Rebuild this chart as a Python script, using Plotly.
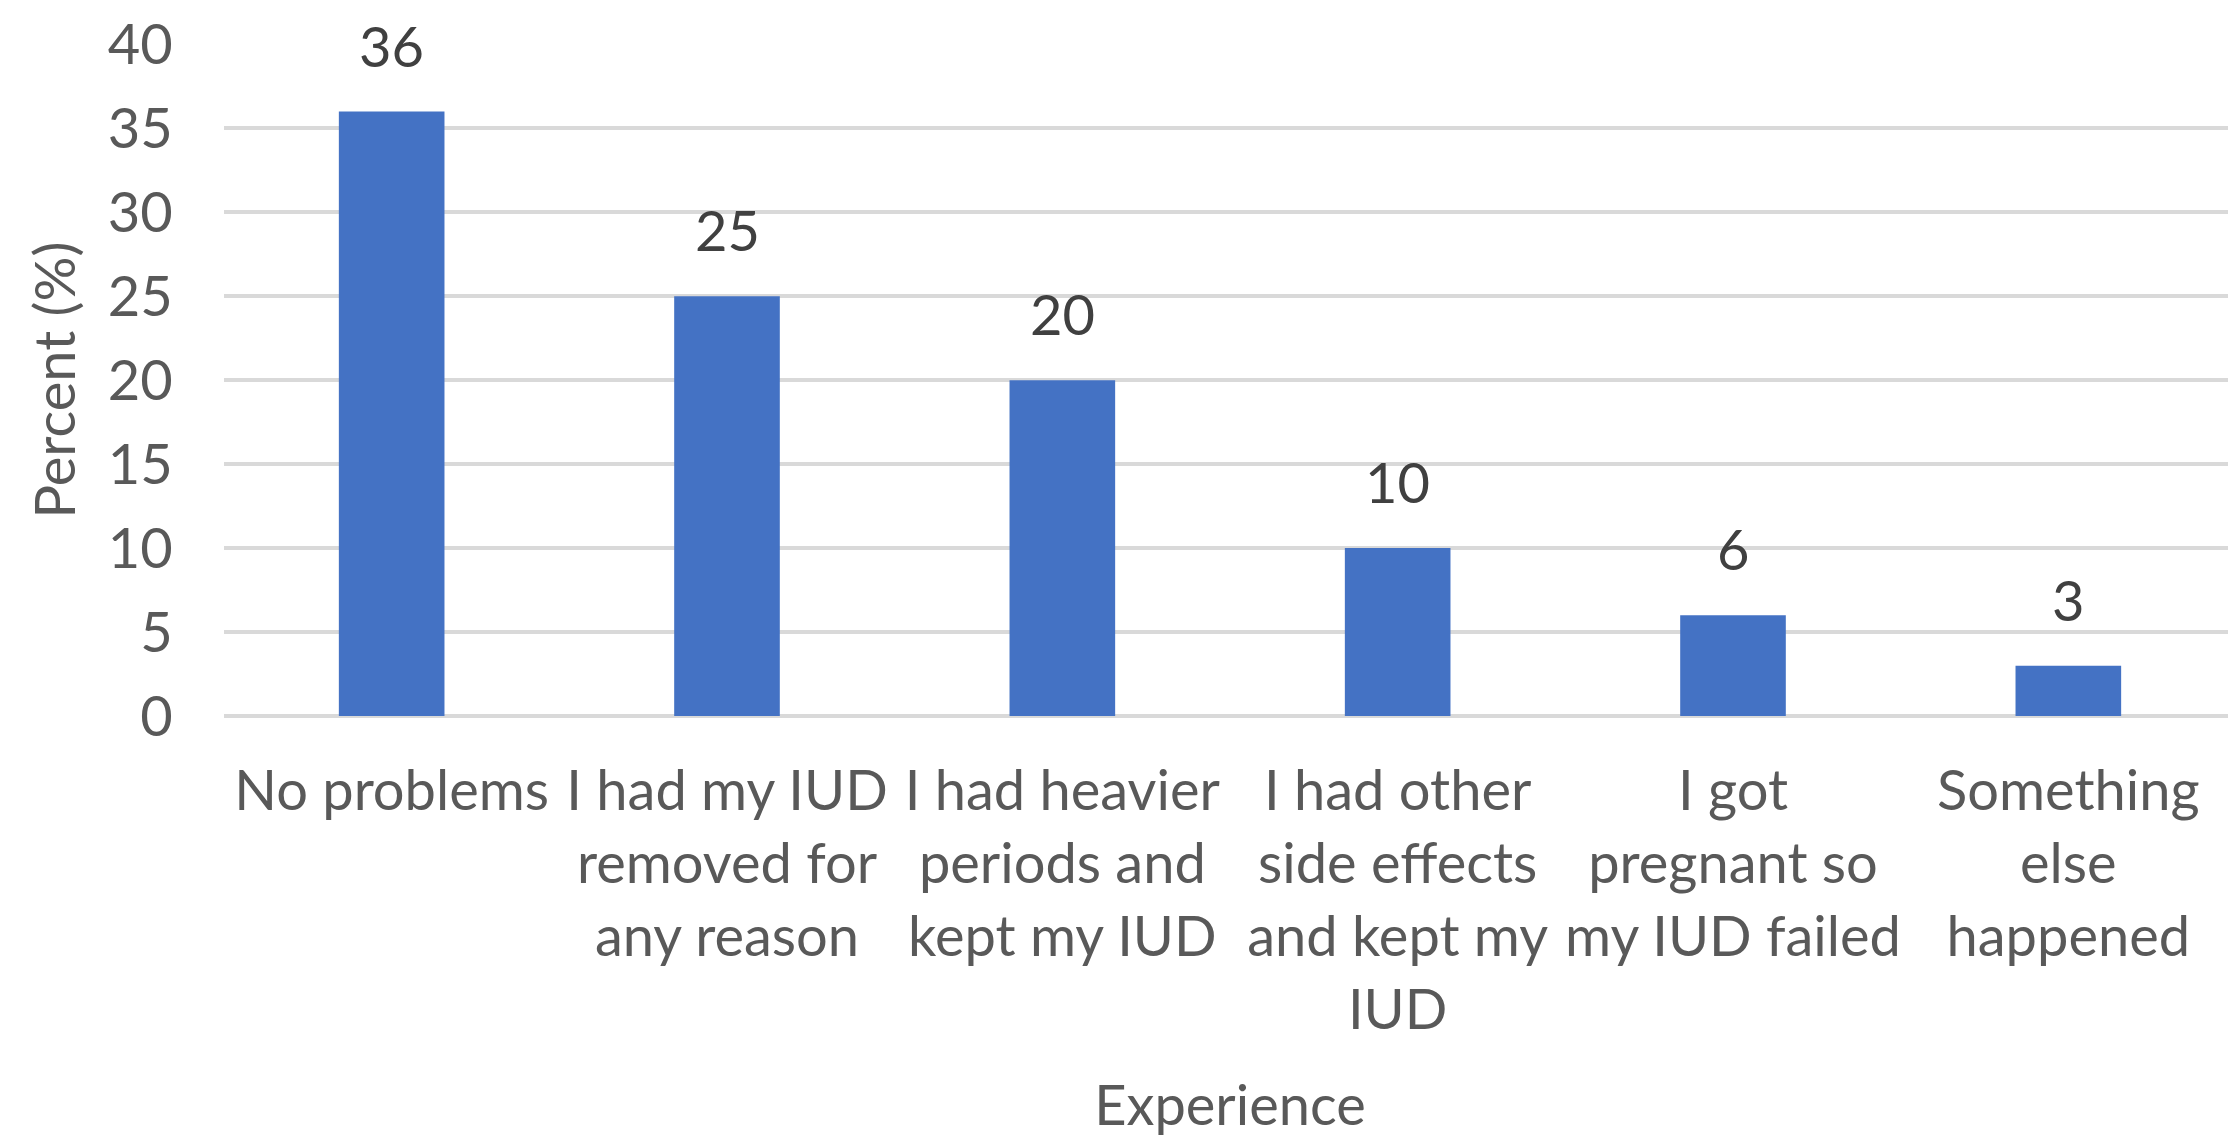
import plotly.graph_objects as go

categories = [
    "No problems",
    "I had my IUD<br>removed for<br>any reason",
    "I had heavier<br>periods and<br>kept my IUD",
    "I had other<br>side effects<br>and kept my<br>IUD",
    "I got<br>pregnant so<br>my IUD failed",
    "Something<br>else<br>happened",
]
values = [36, 25, 20, 10, 6, 3]
y_ticks = [0, 5, 10, 15, 20, 25, 30, 35, 40]

FONT = "Lato"
FS = 56

fig = go.Figure()
fig.add_trace(go.Bar(
    x=categories, y=values,
    marker=dict(color="#4472C4", line=dict(width=0)),
    width=0.315,
    hoverinfo="skip",
))

for c, v in zip(categories, values):
    fig.add_annotation(
        x=c, y=v, text=str(v), showarrow=False,
        yanchor="bottom", yshift=31,
        font=dict(family=FONT, size=FS, color="#404040"),
    )

fig.update_layout(
    width=2228, height=1129,
    margin=dict(l=216, r=0, t=36, b=421),
    plot_bgcolor="white", paper_bgcolor="white",
    showlegend=False,
    font=dict(family=FONT, size=FS, color="#595959"),
)
fig.update_xaxes(
    automargin=False,
    showgrid=False, showline=False, zeroline=False,
    ticks="outside", ticklen=26, tickcolor="rgba(0,0,0,0)",
    tickangle=0,
    tickfont=dict(family=FONT, size=FS, color="#595959"),
    title=dict(text="Experience", font=dict(family=FONT, size=FS, color="#595959"), standoff=46),
)
fig.update_yaxes(
    automargin=False,
    range=[0, 40.02], tickvals=y_ticks,
    ticklabeloverflow="allow",
    showgrid=True, gridcolor="#D9D9D9", gridwidth=4,
    zeroline=True, zerolinecolor="#D9D9D9", zerolinewidth=4,
    showline=False,
    ticks="outside", ticklen=39, tickcolor="rgba(0,0,0,0)",
    tickfont=dict(family=FONT, size=FS, color="#595959"),
    title=dict(text="Percent (%)", font=dict(family=FONT, size=FS, color="#595959"), standoff=14),
)

fig.write_html("out.html")
